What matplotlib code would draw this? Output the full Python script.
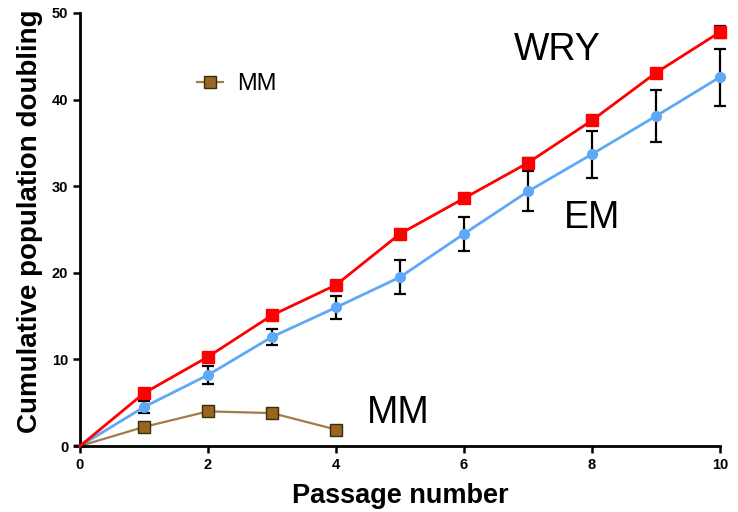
import matplotlib
matplotlib.use("Agg")
import matplotlib.pyplot as plt
from matplotlib.lines import Line2D

plt.rcParams['font.family'] = ['Liberation Sans', 'DejaVu Sans']

passage = [0, 1, 2, 3, 4, 5, 6, 7, 8, 9, 10]
wry = [0, 6.1, 10.3, 15.1, 18.6, 24.5, 28.6, 32.7, 37.6, 43.1, 47.8]
wry_err = [0, 0.3, 0.3, 0.3, 0.3, 0.3, 0.3, 0.6, 0.3, 0.4, 0.7]
em = [0, 4.5, 8.2, 12.6, 16.0, 19.5, 24.5, 29.4, 33.7, 38.1, 42.6]
em_err = [0, 0.7, 1.0, 0.9, 1.3, 2.0, 2.0, 2.3, 2.7, 3.0, 3.3]
mm_x = [0, 1, 2, 3, 4]
mm = [0, 2.2, 4.0, 3.8, 1.9]
mm_err = [0, 0.3, 0.3, 0.4, 0.4]

xticks = [0, 2, 4, 6, 8, 10]
yticks = [0, 10, 20, 30, 40, 50]

fig = plt.figure(figsize=(7.38, 5.12), dpi=100)
ax = fig.add_axes([80/738, 66/512, 640/738, 433/512])

red = '#ff0000'
blue = '#5ea8f7'
brown_line = '#a37b45'
brown_face = '#99661f'

ax.errorbar(passage, em, yerr=em_err, color=blue, lw=2, marker='o', ms=7,
            markevery=list(range(1, len(passage))),
            ecolor='black', elinewidth=1.6, capsize=4, capthick=1.6, clip_on=False, zorder=3)
ax.errorbar(passage, wry, yerr=wry_err, color=red, lw=2, marker='s', ms=8,
            markevery=list(range(1, len(passage))),
            ecolor='black', elinewidth=1.6, capsize=4, capthick=1.6, clip_on=False, zorder=4)
ax.errorbar(mm_x, mm, yerr=mm_err, color=brown_line, lw=1.6, marker='s', ms=8,
            markevery=list(range(1, len(mm_x))),
            mfc=brown_face, mec='#3a2a10', mew=1.0,
            ecolor='black', elinewidth=1.6, capsize=4, capthick=1.6, clip_on=False, zorder=3)

ax.set_xlim(0, 10)
ax.set_ylim(0, 50)
ax.set_xticks(xticks)
ax.set_yticks(yticks)
ax.spines['top'].set_visible(False)
ax.spines['right'].set_visible(False)
ax.spines['left'].set_linewidth(2)
ax.spines['bottom'].set_linewidth(2)
ax.tick_params(width=1.8, length=5, labelsize=10.5, direction='out')
for lbl in ax.get_xticklabels() + ax.get_yticklabels():
    lbl.set_fontweight('bold')

ax.set_xlabel('Passage number', fontsize=19.5, fontweight='bold')
ax.set_ylabel('Cumulative population doubling', fontsize=20, fontweight='bold')
ax.xaxis.set_label_coords(0.5, -0.085)
ax.yaxis.set_label_coords(-0.058, 0.52)

ax.text(7.45, 45.7, 'WRY', fontsize=27, ha='center', va='center')
ax.text(8.0, 26.3, 'EM', fontsize=27, ha='center', va='center')
ax.text(4.97, 3.8, 'MM', fontsize=27, ha='center', va='center')

handle = Line2D([0], [0], color=brown_line, lw=1.6, marker='s', ms=8,
                mfc=brown_face, mec='#3a2a10', mew=1.0)
ax.legend([handle], ['MM'], loc='center left', bbox_to_anchor=(0.15, 0.835),
          frameon=False, fontsize=17, handlelength=1.1, handletextpad=0.6)

fig.savefig('out.png', dpi=100)
